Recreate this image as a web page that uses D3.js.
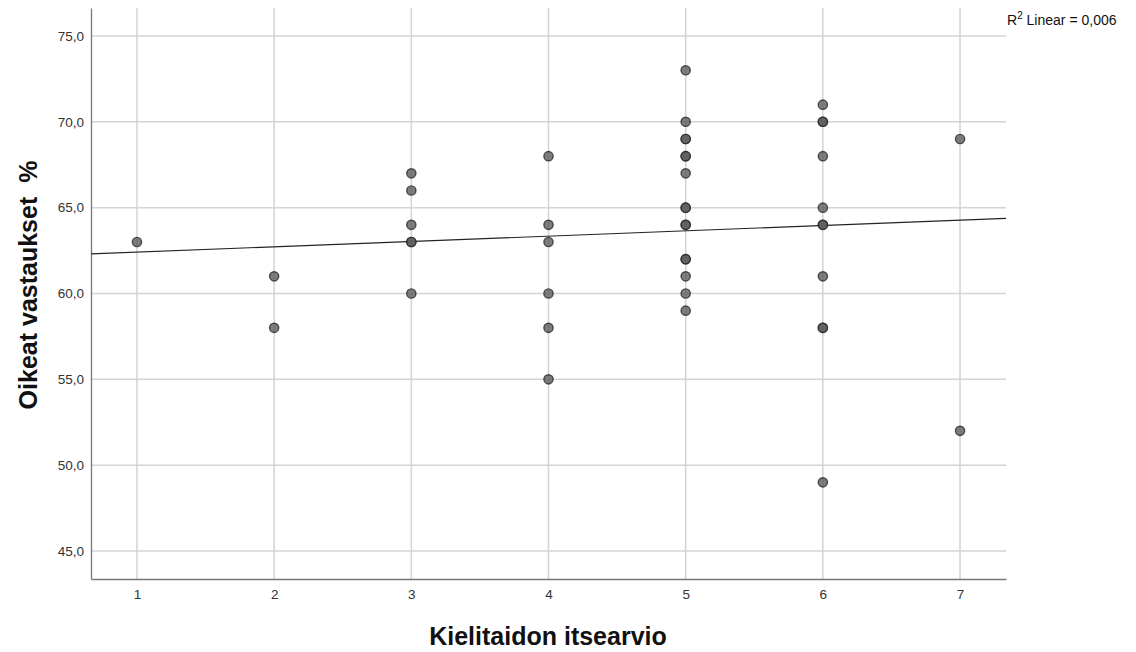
<!DOCTYPE html>
<html>
<head>
<meta charset="utf-8">
<script src="https://cdn.jsdelivr.net/npm/d3@7"></script>
<style>
    body { margin: 0; background: #fff; }
    svg text { font-family: "Liberation Sans", Arial, sans-serif; }
</style>
</head>
<body>
<div id="chart"></div>
<script>
// self-assessment (x) vs. correct answers % (y); repeated rows appear as darker dots
let selfRating = [1, 2, 2, 3, 3, 3, 3, 3, 3, 4, 4, 4, 4, 4, 4,
    5, 5, 5, 5, 5, 5, 5, 5, 5, 5, 5, 5, 5, 5, 5, 5,
    6, 6, 6, 6, 6, 6, 6, 6, 6, 6, 6, 7, 7];
let correctPct = [63, 61, 58, 67, 66, 64, 63, 63, 60, 68, 64, 63, 60, 58, 55,
    73, 70, 69, 69, 68, 68, 67, 65, 65, 64, 64, 62, 62, 61, 60, 59,
    71, 70, 70, 68, 65, 64, 64, 61, 58, 58, 49, 69, 52];

let xTicks = [1, 2, 3, 4, 5, 6, 7];
let yTicks = [45, 50, 55, 60, 65, 70, 75];

// fit line as drawn in the source chart
let fitIntercept = 62.1,
    fitSlope = 0.31;
let fitLabel = "Linear = 0,006";

let width = 1136,
    height = 652;

let margin = {left: 91, right: 130, top: 8, bottom: 73};

let xScale = d3.scaleLinear().domain([0.665, 7.335])
        .range([margin.left, width - margin.right]),
    yScale = d3.scaleLinear().domain([43.37, 76.63])
        .range([height - margin.bottom, margin.top]);

let svg = d3.select("#chart").append("svg")
    .attr("width", width)
    .attr("height", height);

let fmt = d => d.toFixed(1).replace(".", ",");

// grid
svg.append("g").selectAll("line")
    .data(yTicks)
    .join("line")
    .attr("x1", xScale.range()[0])
    .attr("x2", xScale.range()[1])
    .attr("y1", d => yScale(d))
    .attr("y2", d => yScale(d))
    .attr("stroke", "#d4d4d4")
    .attr("stroke-width", 1.5);

svg.append("g").selectAll("line")
    .data(xTicks)
    .join("line")
    .attr("x1", d => xScale(d))
    .attr("x2", d => xScale(d))
    .attr("y1", yScale.range()[0])
    .attr("y2", yScale.range()[1])
    .attr("stroke", "#d4d4d4")
    .attr("stroke-width", 1.5);

// axes
let xAxis = svg.append("g")
    .attr("transform", "translate(0," + yScale.range()[0] + ")")
    .call(d3.axisBottom(xScale).tickValues(xTicks).tickFormat(d3.format("d"))
        .tickSize(0).tickPadding(10));

let yAxis = svg.append("g")
    .attr("transform", "translate(" + xScale.range()[0] + ",0)")
    .call(d3.axisLeft(yScale).tickValues(yTicks).tickFormat(fmt).tickSize(0).tickPadding(7));

[xAxis, yAxis].forEach(ax => {
    ax.select(".domain").attr("stroke", "#777").attr("stroke-width", 1.3);
    ax.selectAll("text").attr("font-size", 13.5).attr("fill", "#333");
});

// regression line
let fitLine = d3.line()
    .x(d => xScale(d))
    .y(d => yScale(fitIntercept + fitSlope * d));

svg.append("path")
    .datum(xScale.domain())
    .attr("d", fitLine)
    .attr("fill", "none")
    .attr("stroke", "#222")
    .attr("stroke-width", 1.1);

// points
svg.append("g").selectAll("circle")
    .data(selfRating.map((x, i) => [x, correctPct[i]]))
    .join("circle")
    .attr("cx", d => xScale(d[0]))
    .attr("cy", d => yScale(d[1]))
    .attr("r", 4.6)
    .attr("fill", "#5c5c5c")
    .attr("fill-opacity", 0.8)
    .attr("stroke", "#2a2a2a")
    .attr("stroke-opacity", 0.8)
    .attr("stroke-width", 1.4);

// fit label
let lbl = svg.append("text")
    .attr("x", 1007)
    .attr("y", 25)
    .attr("font-size", 14)
    .attr("fill", "#111");
lbl.append("tspan").text("R");
lbl.append("tspan").attr("dy", -6).attr("font-size", 10).text("2");
lbl.append("tspan").attr("dy", 6).text(" " + fitLabel);

// titles
svg.append("text")
    .attr("x", 548)
    .attr("y", 645)
    .attr("text-anchor", "middle")
    .attr("font-size", 25)
    .attr("font-weight", "bold")
    .attr("fill", "#111")
    .text("Kielitaidon itsearvio");

svg.append("text")
    .attr("transform", "translate(37,285) rotate(-90)")
    .attr("text-anchor", "middle")
    .attr("font-size", 25)
    .attr("font-weight", "bold")
    .attr("fill", "#111")
    .attr("xml:space", "preserve")
    .style("white-space", "pre")
    .text("Oikeat vastaukset  %");
</script>
</body>
</html>
